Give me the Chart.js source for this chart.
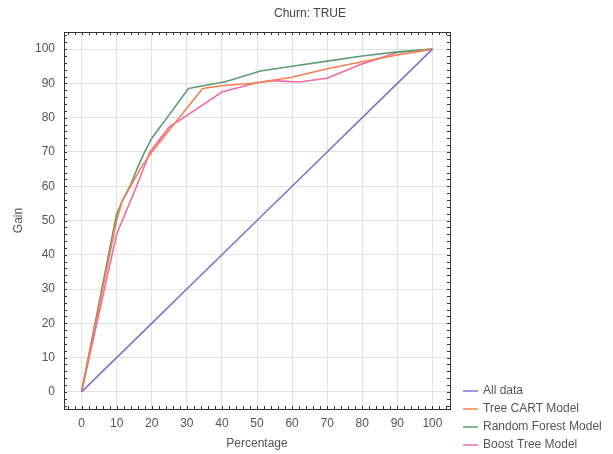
<!DOCTYPE html>
<html lang="en">
<head>
  <meta charset="UTF-8" />
  <title>Churn: TRUE</title>
  <script src="https://cdn.jsdelivr.net/npm/chart.js"></script>
  <style>
    body { margin: 0; background: #fff; }
    #wrap { width: 613px; height: 454px; }
  </style>
</head>
<body>
<div id="wrap"><canvas id="gain"></canvas></div>

<script>
  // data (percentage, gain)
  const seriesNames = ['All data', 'Tree CART Model', 'Random Forest Model', 'Boost Tree Model'];
  const seriesColors = ['#7c72d2', '#f4804e', '#5e9c70', '#f26aa6'];

  const pctAll  = [0, 10, 20, 30, 40, 50, 60, 70, 80, 90, 100];
  const gainAll = [0, 10, 20, 30, 40, 50, 60, 70, 80, 90, 100];

  const pctCart  = [0, 5, 10, 11.5, 14, 17, 20, 34.5, 40, 50, 60, 70, 80, 90, 100];
  const gainCart = [0, 25, 50, 55.5, 60, 65.5, 70, 88.5, 89.3, 90.2, 91.8, 94.3, 96.3, 98.3, 100];

  const pctForest  = [0, 5, 10, 12, 14, 16, 18, 20, 24, 30.5, 35, 41, 51, 60, 70, 80, 90, 100];
  const gainForest = [0, 26, 52, 56.5, 60.5, 65.5, 70, 74, 79.5, 88.5, 89.4, 90.5, 93.6, 95, 96.5, 98, 99.2, 100];

  const pctBoost  = [0, 5, 10, 12, 15.7, 19.5, 25, 30, 40, 50, 54, 62, 70, 80, 90, 100];
  const gainBoost = [0, 23, 46, 51, 60, 70, 77.3, 80.6, 87.5, 90.2, 90.8, 90.4, 91.5, 95.7, 99, 100];

  const xTicks = [0, 10, 20, 30, 40, 50, 60, 70, 80, 90, 100];
  const yTicks = [0, 10, 20, 30, 40, 50, 60, 70, 80, 90, 100];

  const toPoints = (xs, ys) => xs.map((x, i) => ({ x: x, y: ys[i] }));
  const allPts = [
    toPoints(pctAll, gainAll),
    toPoints(pctCart, gainCart),
    toPoints(pctForest, gainForest),
    toPoints(pctBoost, gainBoost)
  ];

  const FONT = 'Arial, "Liberation Sans", sans-serif';
  const TEXT = '#555';

  // frame with small inward ticks on all four sides + title + legend
  const decor = {
    id: 'decor',
    afterDraw(chart) {
      const { ctx, chartArea: a, scales } = chart;
      ctx.save();
      ctx.strokeStyle = '#333';
      ctx.lineWidth = 1;
      ctx.strokeRect(Math.round(a.left) + 0.5, Math.round(a.top) + 0.5,
                     Math.round(a.right - a.left), Math.round(a.bottom - a.top));
      ctx.beginPath();
      for (let v = -4; v <= 104; v += 2) {
        const px = Math.round(scales.x.getPixelForValue(v)) + 0.5;
        const py = Math.round(scales.y.getPixelForValue(v)) + 0.5;
        ctx.moveTo(px, a.bottom); ctx.lineTo(px, a.bottom - 3);
        ctx.moveTo(px, a.top); ctx.lineTo(px, a.top + 3);
        ctx.moveTo(a.left, py); ctx.lineTo(a.left + 3, py);
        ctx.moveTo(a.right, py); ctx.lineTo(a.right - 3, py);
      }
      ctx.stroke();

      // title
      ctx.fillStyle = '#444';
      ctx.font = '12px ' + FONT;
      ctx.textAlign = 'center';
      ctx.textBaseline = 'middle';
      ctx.fillText('Churn: TRUE', 310, 14);

      // legend
      ctx.textAlign = 'left';
      chart.data.datasets.forEach((ds, i) => {
        const y = 391 + i * 18;
        ctx.strokeStyle = ds.borderColor;
        ctx.lineWidth = 1.5;
        ctx.beginPath();
        ctx.moveTo(463, y); ctx.lineTo(478, y);
        ctx.stroke();
        ctx.fillStyle = TEXT;
        ctx.fillText(ds.label, 483, y);
      });
      ctx.restore();
    }
  };

  new Chart(document.getElementById('gain'), {
    type: 'line',
    data: {
      datasets: seriesNames.map((name, i) => ({
        label: name,
        data: allPts[i],
        borderColor: seriesColors[i],
        backgroundColor: seriesColors[i],
        borderWidth: 1.6,
        pointRadius: 0,
        tension: 0,
        fill: false
      }))
    },
    options: {
      responsive: true,
      maintainAspectRatio: false,
      animation: false,
      layout: { padding: { top: 32, right: 163, left: 0, bottom: 0 } },
      plugins: {
        legend: { display: false },
        tooltip: { enabled: false }
      },
      scales: {
        x: {
          type: 'linear',
          min: -5,
          max: 105,
          afterFit: (s) => { s.height = 45; },
          afterBuildTicks: (s) => { s.ticks = xTicks.map(v => ({ value: v })); },
          grid: { color: '#e2e2e2', drawTicks: false },
          border: { display: false },
          ticks: { color: TEXT, font: { family: FONT, size: 12 }, padding: 7, includeBounds: false, maxRotation: 0 },
          title: { display: true, text: 'Percentage', color: TEXT, font: { family: FONT, size: 12 }, padding: { top: 0, bottom: 3 } }
        },
        y: {
          type: 'linear',
          min: -5,
          max: 105,
          afterFit: (s) => { s.width = 64; },
          afterBuildTicks: (s) => { s.ticks = yTicks.map(v => ({ value: v })); },
          grid: { color: '#e2e2e2', drawTicks: false },
          border: { display: false },
          ticks: { color: TEXT, font: { family: FONT, size: 12 }, padding: 9, includeBounds: false },
          title: { display: true, text: 'Gain', color: TEXT, font: { family: FONT, size: 12 }, padding: { top: 11, bottom: 0 } }
        }
      }
    },
    plugins: [decor]
  });
</script>
</body>
</html>
